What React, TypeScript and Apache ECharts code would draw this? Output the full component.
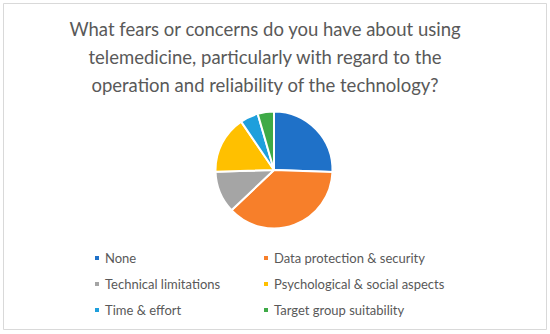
import React, { useEffect, useRef } from "react";
import * as echarts from "echarts";

const titleLines = [
  "What fears or concerns do you have about using",
  "telemedicine, particularly with regard to the",
  "operation and reliability of the technology?",
];
const categories = [
  "None",
  "Data protection & security",
  "Technical limitations",
  "Psychological & social aspects",
  "Time & effort",
  "Target group suitability",
];
const values = [25.6, 37.4, 11.6, 16.0, 5.0, 4.5];
const colors = ["#1F71C8", "#F77F2A", "#A5A5A5", "#FFC000", "#1E9FDC", "#3EAA47"];

export default function App() {
  const ref = useRef<HTMLDivElement>(null);
  useEffect(() => {
    if (!ref.current) return;
    const chart = echarts.init(ref.current, undefined, { renderer: "svg" });
    const font = "Lato, Open Sans, sans-serif";
    const legendText = { color: "#595959", fontSize: 13, fontFamily: font, lineHeight: 14 };
    chart.setOption({
      animation: false,
      backgroundColor: "#ffffff",
      color: colors,
      title: {
        text: titleLines.join("\n"),
        left: 260,
        textAlign: "center",
        top: 10,
        textStyle: {
          color: "#595959",
          fontSize: 18.5,
          fontWeight: "normal",
          fontFamily: font,
          lineHeight: 28,
        },
      },
      graphic: [
        {
          type: "rect",
          shape: { x: 3.5, y: 3.5, width: 543, height: 326 },
          style: { fill: "none", stroke: "#d9d9d9", lineWidth: 1 },
          silent: true,
        },
      ],
      legend: [
        {
          data: [categories[0], categories[2], categories[4]],
          orient: "vertical",
          left: 88,
          top: 246,
          itemWidth: 6,
          itemHeight: 6,
          itemGap: 12,
          icon: "rect",
          textStyle: legendText,
        },
        {
          data: [categories[1], categories[3], categories[5]],
          orient: "vertical",
          left: 257,
          top: 246,
          itemWidth: 6,
          itemHeight: 6,
          itemGap: 12,
          icon: "rect",
          textStyle: legendText,
        },
      ],
      series: [
        {
          type: "pie",
          center: [274, 170],
          radius: 58.5,
          startAngle: 90,
          clockwise: true,
          label: { show: false },
          labelLine: { show: false },
          itemStyle: { borderColor: "#ffffff", borderWidth: 2 },
          data: categories.map((name, i) => ({ name, value: values[i] })),
        },
      ],
    });
    return () => chart.dispose();
  }, []);
  return (
    <div
      ref={ref}
      style={{ position: "fixed", left: 0, top: 0, width: 550, height: 334 }}
    />
  );
}
